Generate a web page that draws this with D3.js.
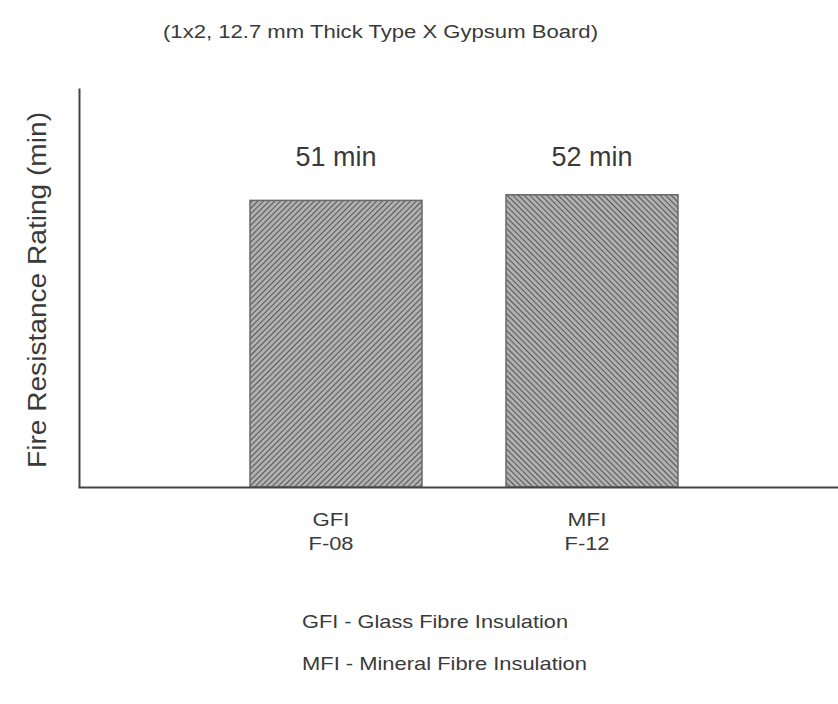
<!DOCTYPE html>
<html>
<head>
<meta charset="utf-8">
<script src="https://cdn.jsdelivr.net/npm/d3@7/dist/d3.min.js"></script>
<style>
  html, body { margin: 0; padding: 0; background: #ffffff; }
  svg { display: block; }
  text { font-family: "Liberation Sans", Arial, Helvetica, sans-serif; fill: #3a3a3a; }
</style>
</head>
<body>
<svg id="chart" width="838" height="704"></svg>
<script>
// ---- data ----
const categories = ["GFI", "MFI"];
const specimens = ["F-08", "F-12"];
const values = [51, 52];
const valueLabels = ["51 min", "52 min"];
const legendLines = ["GFI - Glass Fibre Insulation", "MFI - Mineral Fibre Insulation"];
const titleText = "(1x2, 12.7 mm Thick Type X Gypsum Board)";
const yLabelText = "Fire Resistance Rating (min)";
const yMax = 71;

const svg = d3.select("#chart");

// hatch patterns
const defs = svg.append("defs");
function hatch(id, dir) {
  const p = defs.append("pattern")
    .attr("id", id)
    .attr("patternUnits", "userSpaceOnUse")
    .attr("width", 4).attr("height", 4)
    .attr("patternTransform", `rotate(${dir})`);
  p.append("rect").attr("width", 4).attr("height", 4).attr("fill", "#b0b0b0");
  p.append("line").attr("x1", 0).attr("y1", 0).attr("x2", 0).attr("y2", 4)
    .attr("stroke", "#555").attr("stroke-width", 2);
}
hatch("hatchA", 45);
hatch("hatchB", -45);

const x = d3.scaleBand()
  .domain(categories)
  .range([90, 838])
  .paddingInner(0.328)
  .paddingOuter(0.625);

const y = d3.scaleLinear()
  .domain([0, yMax])
  .range([487, 88]);

// title
svg.append("text")
  .attr("x", 163).attr("y", 38)
  .attr("font-size", 18)
  .attr("textLength", 435)
  .attr("lengthAdjust", "spacingAndGlyphs")
  .text(titleText);

// bars
svg.selectAll("rect.bar")
  .data(values)
  .join("rect")
  .attr("class", "bar")
  .attr("x", (d, i) => x(categories[i]))
  .attr("y", d => y(d))
  .attr("width", x.bandwidth())
  .attr("height", d => y(0) - y(d))
  .attr("fill", (d, i) => i === 0 ? "url(#hatchA)" : "url(#hatchB)")
  .attr("stroke", "#6a6a6a")
  .attr("stroke-width", 1.5);

// value labels
svg.selectAll("text.val")
  .data(valueLabels)
  .join("text")
  .attr("class", "val")
  .attr("x", (d, i) => x(categories[i]) + x.bandwidth() / 2)
  .attr("y", 166)
  .attr("text-anchor", "middle")
  .attr("font-size", 27)
  .attr("textLength", 81)
  .attr("lengthAdjust", "spacingAndGlyphs")
  .text(d => d);

// axes lines (d3 axes with no ticks)
const yAxis = d3.axisLeft(y).tickValues([]).tickSizeOuter(0);
svg.append("g")
  .attr("transform", "translate(79,0)")
  .call(yAxis)
  .call(g => g.select(".domain").attr("stroke", "#444").attr("stroke-width", 2));

const xAxisScale = d3.scaleLinear().domain([0, 1]).range([78, 838]);
const xAxis = d3.axisBottom(xAxisScale).tickValues([]).tickSizeOuter(0);
svg.append("g")
  .attr("transform", `translate(0,${y(0)})`)
  .call(xAxis)
  .call(g => g.select(".domain").attr("stroke", "#444").attr("stroke-width", 2));

// category labels
const catG = svg.selectAll("g.cat")
  .data(categories)
  .join("g")
  .attr("class", "cat")
  .attr("transform", d => `translate(${x(d) + x.bandwidth() / 2 - 5},0)`);
catG.append("text")
  .attr("y", 526)
  .attr("text-anchor", "middle")
  .attr("font-size", 19)
  .attr("textLength", (d, i) => i === 0 ? 37 : 39)
  .attr("lengthAdjust", "spacingAndGlyphs")
  .text(d => d);
catG.append("text")
  .attr("y", 550)
  .attr("text-anchor", "middle")
  .attr("font-size", 19)
  .attr("textLength", 45)
  .attr("lengthAdjust", "spacingAndGlyphs")
  .text((d, i) => specimens[i]);

// y-axis label
svg.append("text")
  .attr("transform", "translate(46,290) rotate(-90)")
  .attr("text-anchor", "middle")
  .attr("font-size", 25)
  .attr("textLength", 356)
  .attr("lengthAdjust", "spacingAndGlyphs")
  .text(yLabelText);

// legend / notes
svg.selectAll("text.note")
  .data(legendLines)
  .join("text")
  .attr("class", "note")
  .attr("x", 302)
  .attr("y", (d, i) => 628 + i * 42)
  .attr("font-size", 19)
  .attr("textLength", (d, i) => i === 0 ? 266 : 285)
  .attr("lengthAdjust", "spacingAndGlyphs")
  .text(d => d);
</script>
</body>
</html>
